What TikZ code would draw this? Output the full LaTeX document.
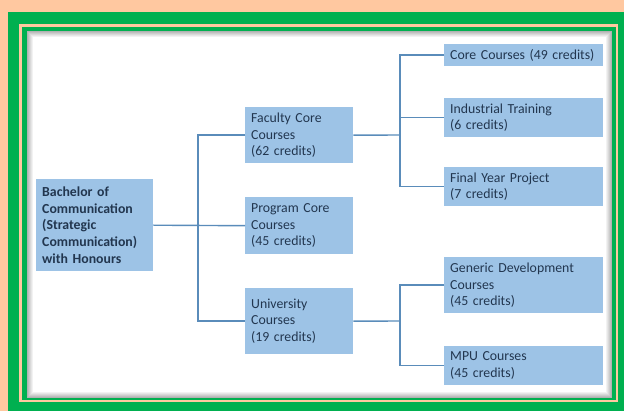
\documentclass[tikz,border=0pt]{standalone}
\usepackage{fontspec}
\setmainfont{Carlito}
\usepackage{tikz}
\usetikzlibrary{calc}

\definecolor{peach}{HTML}{FFC8A0}
\definecolor{framegreen}{HTML}{00B050}
\definecolor{boxblue}{HTML}{9DC3E6}
\definecolor{linkblue}{HTML}{5A8CBA}
\definecolor{textnavy}{HTML}{22364F}

\tikzset{
    coursebox/.style={fill=boxblue, text=textnavy, anchor=north west, align=left,
        inner xsep=6pt, inner ysep=3pt, font=\fontsize{13.8}{16.7}\selectfont},
    link/.style={draw=linkblue, line width=1.4pt}
}

\begin{document}
\begin{tikzpicture}[x=1pt, y=-1pt]
            \useasboundingbox (0,0) rectangle (624,411);
            % frame
            \fill[peach] (0,0) rectangle (624,411);
            \fill[framegreen] (8,12) rectangle (630,420);
            \fill[peach] (19,24) rectangle (617.7,402);
            \fill[framegreen] (22,27) rectangle (615.7,400);
            \fill[white] (27,31) rectangle (612,398);
            \foreach \i in {0,...,5} {
                \draw[black, opacity=0.30-\i*0.05, line width=1pt] (27.5+\i,31.5+\i) rectangle (611.5-\i,397.5-\i);
            }

            % boxes
            \node[coursebox, text width=105pt, minimum height=92pt, font=\fontsize{13.8}{16.7}\selectfont\bfseries] (root) at (36,179)
                {Bachelor of\\Communication\\(Strategic\\Communication)\\with Honours};
            \node[coursebox, text width=96pt, minimum height=56pt] (fac) at (245,107) {Faculty Core\\Courses\\(62 credits)};
            \node[coursebox, text width=96pt, minimum height=57pt] (prog) at (245,197) {Program Core\\Courses\\(45 credits)};
            \node[coursebox, text width=96pt, minimum height=66pt] (uni) at (245,288) {University\\Courses\\(19 credits)};

            \node[coursebox, text width=147pt, minimum height=22pt] (core) at (444,44) {Core Courses (49 credits)};
            \node[coursebox, text width=147pt, minimum height=39pt] (ind) at (444,98) {Industrial Training\\(6 credits)};
            \node[coursebox, text width=147pt, minimum height=39pt] (fyp) at (444,167) {Final Year Project\\(7 credits)};
            \node[coursebox, text width=147pt, minimum height=56pt] (gen) at (444,257) {Generic Development\\Courses\\(45 credits)};
            \node[coursebox, text width=147pt, minimum height=39pt] (mpu) at (444,346) {MPU Courses\\(45 credits)};

            % connectors
            \coordinate (j1) at (198,225);
            \coordinate (j2) at (400,135);
            \coordinate (j3) at (400,321);
            \draw[link] (root.east) -- (prog.west);
            \draw[link] (fac.west) -| (j1) |- (uni.west);
            \draw[link] (fac.east) -- (j2);
            \draw[link] (core.west) -| (j2) |- (fyp.west);
            \draw[link] (ind.west) -- (ind.west -| j2);
            \draw[link] (uni.east) -- (j3);
            \draw[link] (gen.west) -| (j3) |- (mpu.west);
        \end{tikzpicture}
\end{document}
